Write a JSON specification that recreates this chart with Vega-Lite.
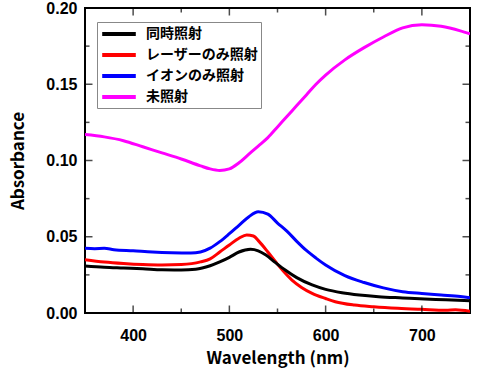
{
  "$schema": "https://vega.github.io/schema/vega-lite/v6.json",
  "width": 385,
  "height": 305,
  "autosize": {"type": "none"},
  "padding": {"left": 85, "top": 8, "right": 12, "bottom": 62},
  "background": "white",
  "config": {
    "view": {"stroke": "black", "strokeWidth": 2},
    "axis": {"grid": false, "domain": false, "ticks": false,
      "labelFont": "Liberation Sans", "labelFontWeight": "bold", "labelFontSize": 16, "labelColor": "black",
      "labelFlush": false, "labelOverlap": false,
      "titleFont": "Noto Sans CJK JP", "titleFontWeight": "bold", "titleFontSize": 17, "titleColor": "black"}
  },
  "datasets": {
    "spectra": [
    {"s":"未照射","wl":350,"a":0.117},{"s":"未照射","wl":370,"a":0.1155},{"s":"未照射","wl":390,"a":0.113},{"s":"未照射","wl":410,"a":0.109},{"s":"未照射","wl":430,"a":0.105},{"s":"未照射","wl":450,"a":0.101},{"s":"未照射","wl":470,"a":0.0965},{"s":"未照射","wl":480,"a":0.0945},{"s":"未照射","wl":490,"a":0.0935},{"s":"未照射","wl":500,"a":0.0945},{"s":"未照射","wl":510,"a":0.0985},{"s":"未照射","wl":520,"a":0.104},{"s":"未照射","wl":530,"a":0.1095},{"s":"未照射","wl":540,"a":0.115},{"s":"未照射","wl":550,"a":0.122},{"s":"未照射","wl":560,"a":0.129},{"s":"未照射","wl":570,"a":0.136},{"s":"未照射","wl":580,"a":0.143},{"s":"未照射","wl":590,"a":0.15},{"s":"未照射","wl":600,"a":0.156},{"s":"未照射","wl":620,"a":0.166},{"s":"未照射","wl":640,"a":0.174},{"s":"未照射","wl":660,"a":0.181},{"s":"未照射","wl":680,"a":0.187},{"s":"未照射","wl":700,"a":0.189},{"s":"未照射","wl":720,"a":0.188},{"s":"未照射","wl":740,"a":0.185},{"s":"未照射","wl":750,"a":0.183},
    {"s":"イオンのみ照射","wl":350,"a":0.0425},{"s":"イオンのみ照射","wl":360,"a":0.0422},{"s":"イオンのみ照射","wl":370,"a":0.0424},{"s":"イオンのみ照射","wl":380,"a":0.0415},{"s":"イオンのみ照射","wl":400,"a":0.0408},{"s":"イオンのみ照射","wl":420,"a":0.04},{"s":"イオンのみ照射","wl":440,"a":0.0395},{"s":"イオンのみ照射","wl":460,"a":0.0393},{"s":"イオンのみ照射","wl":470,"a":0.04},{"s":"イオンのみ照射","wl":480,"a":0.0425},{"s":"イオンのみ照射","wl":490,"a":0.0468},{"s":"イオンのみ照射","wl":500,"a":0.052},{"s":"イオンのみ照射","wl":510,"a":0.0575},{"s":"イオンのみ照射","wl":520,"a":0.063},{"s":"イオンのみ照射","wl":530,"a":0.0664},{"s":"イオンのみ照射","wl":540,"a":0.0648},{"s":"イオンのみ照射","wl":550,"a":0.059},{"s":"イオンのみ照射","wl":560,"a":0.0535},{"s":"イオンのみ照射","wl":570,"a":0.047},{"s":"イオンのみ照射","wl":580,"a":0.041},{"s":"イオンのみ照射","wl":590,"a":0.036},{"s":"イオンのみ照射","wl":600,"a":0.0315},{"s":"イオンのみ照射","wl":620,"a":0.0245},{"s":"イオンのみ照射","wl":640,"a":0.02},{"s":"イオンのみ照射","wl":660,"a":0.0165},{"s":"イオンのみ照射","wl":680,"a":0.014},{"s":"イオンのみ照射","wl":700,"a":0.0128},{"s":"イオンのみ照射","wl":720,"a":0.0118},{"s":"イオンのみ照射","wl":740,"a":0.0108},{"s":"イオンのみ照射","wl":750,"a":0.01},
    {"s":"レーザーのみ照射","wl":350,"a":0.035},{"s":"レーザーのみ照射","wl":370,"a":0.0335},{"s":"レーザーのみ照射","wl":390,"a":0.0325},{"s":"レーザーのみ照射","wl":410,"a":0.0318},{"s":"レーザーのみ照射","wl":430,"a":0.0315},{"s":"レーザーのみ照射","wl":450,"a":0.0318},{"s":"レーザーのみ照射","wl":470,"a":0.0335},{"s":"レーザーのみ照射","wl":480,"a":0.0355},{"s":"レーザーのみ照射","wl":490,"a":0.04},{"s":"レーザーのみ照射","wl":500,"a":0.0446},{"s":"レーザーのみ照射","wl":510,"a":0.049},{"s":"レーザーのみ照射","wl":518,"a":0.0512},{"s":"レーザーのみ照射","wl":525,"a":0.0505},{"s":"レーザーのみ照射","wl":531,"a":0.0468},{"s":"レーザーのみ照射","wl":540,"a":0.04},{"s":"レーザーのみ照射","wl":548,"a":0.0336},{"s":"レーザーのみ照射","wl":556,"a":0.0275},{"s":"レーザーのみ照射","wl":565,"a":0.0216},{"s":"レーザーのみ照射","wl":575,"a":0.0168},{"s":"レーザーのみ照射","wl":586,"a":0.0129},{"s":"レーザーのみ照射","wl":600,"a":0.0095},{"s":"レーザーのみ照射","wl":610,"a":0.0074},{"s":"レーザーのみ照射","wl":630,"a":0.0052},{"s":"レーザーのみ照射","wl":650,"a":0.0041},{"s":"レーザーのみ照射","wl":675,"a":0.0031},{"s":"レーザーのみ照射","wl":700,"a":0.0024},{"s":"レーザーのみ照射","wl":725,"a":0.0018},{"s":"レーザーのみ照射","wl":735,"a":0.0022},{"s":"レーザーのみ照射","wl":750,"a":0.0012},
    {"s":"同時照射","wl":350,"a":0.0308},{"s":"同時照射","wl":370,"a":0.03},{"s":"同時照射","wl":390,"a":0.0295},{"s":"同時照射","wl":410,"a":0.029},{"s":"同時照射","wl":430,"a":0.0283},{"s":"同時照射","wl":450,"a":0.0282},{"s":"同時照射","wl":465,"a":0.0287},{"s":"同時照射","wl":480,"a":0.031},{"s":"同時照射","wl":490,"a":0.0335},{"s":"同時照射","wl":500,"a":0.0365},{"s":"同時照射","wl":510,"a":0.04},{"s":"同時照射","wl":522,"a":0.0418},{"s":"同時照射","wl":530,"a":0.0408},{"s":"同時照射","wl":538,"a":0.038},{"s":"同時照射","wl":548,"a":0.033},{"s":"同時照射","wl":558,"a":0.0282},{"s":"同時照射","wl":570,"a":0.0232},{"s":"同時照射","wl":586,"a":0.0184},{"s":"同時照射","wl":600,"a":0.0155},{"s":"同時照射","wl":617,"a":0.0133},{"s":"同時照射","wl":635,"a":0.0118},{"s":"同時照射","wl":655,"a":0.0107},{"s":"同時照射","wl":680,"a":0.0099},{"s":"同時照射","wl":703,"a":0.0092},{"s":"同時照射","wl":725,"a":0.0087},{"s":"同時照射","wl":750,"a":0.0081}
    ],
    "xticks": [{"v":400,"k":"major"},{"v":450,"k":"minor"},{"v":500,"k":"major"},{"v":550,"k":"minor"},{"v":600,"k":"major"},{"v":650,"k":"minor"},{"v":700,"k":"major"}],
    "yticks": [{"v":0.025,"k":"minor"},{"v":0.05,"k":"major"},{"v":0.075,"k":"minor"},{"v":0.1,"k":"major"},{"v":0.125,"k":"minor"},{"v":0.15,"k":"major"},{"v":0.175,"k":"minor"}]
  },
  "layer": [
    {
      "data": {"name": "spectra"},
      "mark": {"type": "line", "strokeWidth": 3, "interpolate": "monotone", "clip": true},
      "encoding": {
        "x": {"field": "wl", "type": "quantitative", "scale": {"domain": [350, 750], "nice": false},
          "axis": {"orient": "bottom", "title": "Wavelength (nm)", "values": [400,500,600,700],
            "labelPadding": 14, "titleY": 45, "titleBaseline": "middle"}},
        "y": {"field": "a", "type": "quantitative", "scale": {"domain": [0, 0.2], "nice": false, "zero": false},
          "axis": {"orient": "left", "title": "Absorbance", "values": [0,0.05,0.1,0.15,0.2],
            "format": ".2f", "labelPadding": 8, "titleX": -67, "titleBaseline": "middle", "titleAngle": -90}},
        "color": {"field": "s", "type": "nominal",
          "scale": {"domain": ["同時照射","レーザーのみ照射","イオンのみ照射","未照射"], "range": ["#000000","#ff0000","#0000ff","#ff00ff"]},
          "legend": {"orient": "none", "legendX": 12, "legendY": 14, "title": null,
            "symbolType": "M-2.4,0L2.4,0", "symbolStrokeWidth": 4, "symbolSize": 196, "symbolOffset": 10,
            "labelFont": "Noto Sans CJK JP", "labelFontWeight": "bold", "labelFontSize": 14, "labelColor": "black",
            "strokeColor": "#888888", "fillColor": "white", "padding": 3, "rowPadding": 4, "labelOffset": 18, "labelLimit": 300}}
      }
    },
    {
      "data": {"name": "xticks"},
      "mark": {"type": "tick", "orient": "vertical", "thickness": 1.5, "color": "black", "clip": true},
      "encoding": {
        "x": {"field": "v", "type": "quantitative"},
        "y": {"datum": 0},
        "size": {"field": "k", "type": "nominal", "scale": {"domain": ["major","minor"], "range": [15, 9]}, "legend": null}
      }
    },
    {
      "data": {"name": "xticks"},
      "mark": {"type": "tick", "orient": "vertical", "thickness": 1.5, "color": "black", "clip": true},
      "encoding": {
        "x": {"field": "v", "type": "quantitative"},
        "y": {"datum": 0.2},
        "size": {"field": "k", "type": "nominal", "scale": {"domain": ["major","minor"], "range": [15, 9]}, "legend": null}
      }
    },
    {
      "data": {"name": "yticks"},
      "mark": {"type": "tick", "orient": "horizontal", "thickness": 1.5, "color": "black", "clip": true},
      "encoding": {
        "y": {"field": "v", "type": "quantitative"},
        "x": {"datum": 350},
        "size": {"field": "k", "type": "nominal", "scale": {"domain": ["major","minor"], "range": [15, 9]}, "legend": null}
      }
    },
    {
      "data": {"name": "yticks"},
      "mark": {"type": "tick", "orient": "horizontal", "thickness": 1.5, "color": "black", "clip": true},
      "encoding": {
        "y": {"field": "v", "type": "quantitative"},
        "x": {"datum": 750},
        "size": {"field": "k", "type": "nominal", "scale": {"domain": ["major","minor"], "range": [15, 9]}, "legend": null}
      }
    }
  ]
}
